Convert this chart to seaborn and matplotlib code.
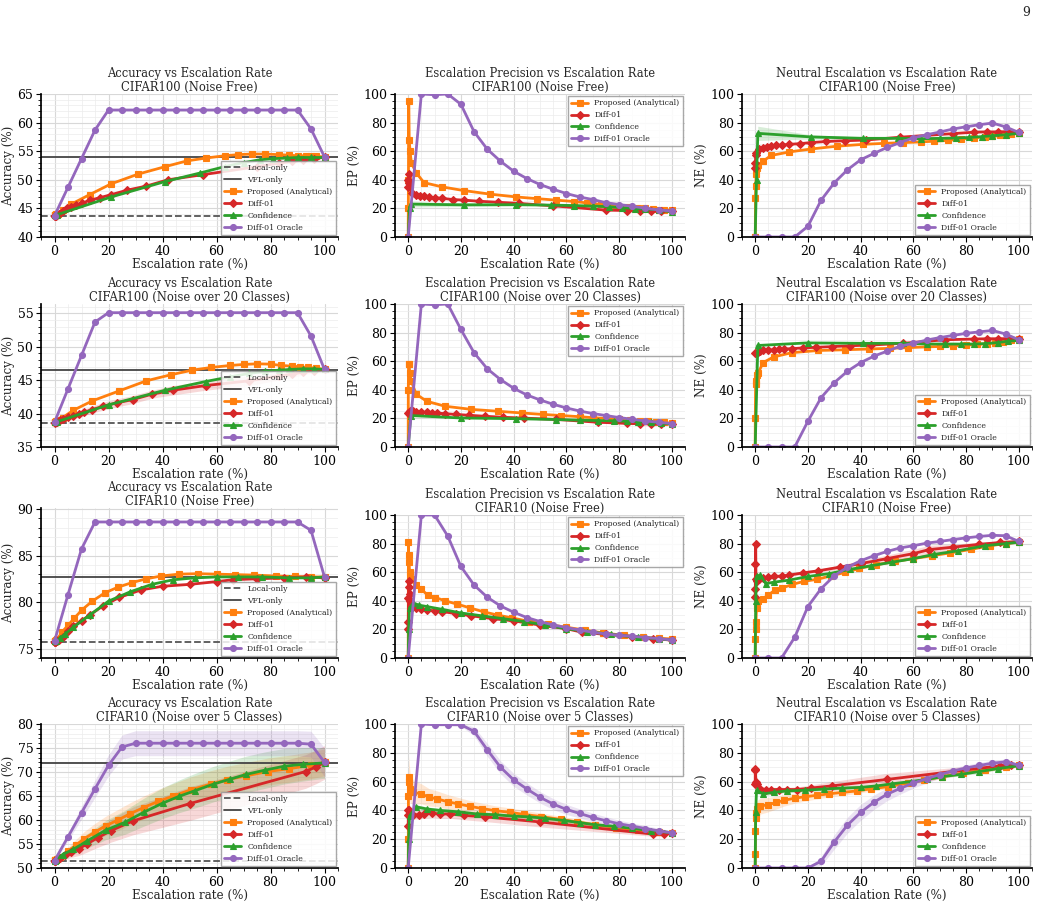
import numpy as np
import matplotlib
matplotlib.use("Agg")
import matplotlib.pyplot as plt
from matplotlib.ticker import MultipleLocator
import seaborn as sns

# ---------------------------------------------------------------- data
# oracle operating points (escalation rate, %)
oracle_x = [0, 5, 10, 15, 20, 25, 30, 35, 40, 45, 50, 55, 60, 65, 70, 75, 80, 85, 90, 95, 100]

# ---- CIFAR100 (Noise Free)
c100nf_local, c100nf_vfl = 43.7, 53.9
c100nf_x_prop = [0, 0.05, 0.1, 0.2, 0.4, 0.7, 1.2, 3, 6, 13, 21, 31, 41, 49, 56, 63, 68, 73, 78, 83, 87, 90, 93, 95, 97, 100]
c100nf_x_diff = [0, 0.1, 0.2, 0.4, 1.5, 3, 4.5, 6, 8, 10, 13, 17, 21, 27, 34, 42, 55, 75, 83, 88, 92, 96, 100]
c100nf_x_conf = [0, 0.5, 1, 21, 41, 54, 63, 70, 76, 81, 86, 90, 95, 100]
c100nf_acc_prop = [43.8, 43.8, 43.8, 43.9, 43.9, 44.0, 44.1, 44.7, 45.7, 47.4, 49.3, 51.0, 52.3, 53.3, 53.8, 54.2, 54.4, 54.5, 54.5, 54.4, 54.3, 54.2, 54.2, 54.1, 54.1, 54.0]
c100nf_acc_diff = [43.6, 43.6, 43.7, 43.7, 44.0, 44.5, 45.0, 45.3, 45.6, 45.9, 46.4, 46.9, 47.4, 48.2, 48.9, 50.0, 50.9, 52.3, 52.9, 53.2, 53.4, 53.6, 54.0]
c100nf_acc_conf = [43.8, 43.8, 43.9, 47.0, 49.7, 51.2, 52.3, 53.0, 53.5, 53.7, 53.8, 53.9, 53.9, 53.9]
c100nf_acc_orac = [43.7, 48.7, 53.7, 58.7, 62.2, 62.2, 62.2, 62.2, 62.2, 62.2, 62.2, 62.2, 62.2, 62.2, 62.2, 62.2, 62.2, 62.2, 62.2, 58.9, 54.0]
c100nf_ep_prop = [0, 20, 40, 95, 68, 60, 52, 45, 38, 35, 32.5, 30, 28, 26.8, 25.8, 24.8, 23.8, 22.8, 22, 21.2, 20.5, 20, 19.5, 19.2, 19, 18.6]
c100nf_ep_diff = [35, 40, 44, 38, 31, 29.5, 29, 28.5, 28, 27.5, 27, 26.2, 25.8, 25, 24.3, 23.5, 21.8, 18.8, 18.5, 18.2, 18.2, 18.2, 18.3]
c100nf_ep_conf = [0, 20, 23, 22.5, 22.6, 22.3, 22, 21.6, 21.2, 20.5, 19.8, 19.5, 19, 17.5]
c100nf_ep_orac = [0, 100, 99.5, 100, 92.8, 73.6, 61.4, 53, 46, 40.9, 36.7, 33.4, 30.4, 28, 26.2, 24, 22.7, 21.5, 20.1, 18.9, 18.2]
c100nf_ne_prop = [0, 0, 27, 36, 44, 48, 50, 53, 57, 59.5, 61.5, 63.5, 64.8, 65.5, 66, 66.5, 67, 67.5, 68.5, 69.3, 70, 70.5, 71, 71.5, 72, 73]
c100nf_ne_diff = [48.5, 52, 57, 59, 61.5, 62.5, 63, 63.5, 64, 64.3, 64.8, 65.3, 66, 66.8, 67.3, 67.8, 69.8, 72.3, 73.3, 73.5, 73.5, 73.7, 73.5]
c100nf_ne_conf = [0, 40, 72.5, 70, 69, 69, 68.7, 69, 69.2, 69.6, 70.2, 70.8, 71.5, 72.5]
c100nf_ne_orac = [0, 0, 0, 0, 7.5, 25.7, 37.9, 47, 54, 58.4, 62.6, 66, 69.4, 71.5, 73.4, 75.5, 77.1, 78.5, 79.7, 77, 73.1]
c100nf_ep_conf_sd = [0, 1, 2, 1.2, 0.8, 0.5, 0.5, 0.5, 0.5, 0.5, 0.5, 0.5, 0.5, 0.5]
c100nf_ne_conf_sd = [0, 3, 5, 1.5, 0.8, 0.5, 0.5, 0.5, 0.5, 0.5, 0.5, 0.5, 0.5, 0.5]

# ---- CIFAR100 (Noise over 20 Classes)
c100n20_local, c100n20_vfl = 38.65, 46.55
c100n20_x_prop = [0, 0.05, 0.15, 0.3, 0.6, 1.2, 3, 7, 14, 24, 34, 43, 51, 58, 65, 70, 75, 80, 84, 88, 91, 94, 97, 100]
c100n20_x_diff = [0, 0.5, 1, 2, 3, 5, 7, 9, 11, 14, 18, 23, 29, 36, 44, 56, 72, 83, 88, 92, 96, 100]
c100n20_x_conf = [0, 1, 20, 41, 56, 65, 72, 78, 83, 87, 92, 96, 100]
c100n20_acc_prop = [38.8, 38.8, 38.8, 38.8, 38.9, 39.0, 39.4, 40.5, 41.9, 43.4, 44.9, 45.8, 46.5, 46.9, 47.2, 47.35, 47.45, 47.4, 47.2, 47.1, 47.0, 46.9, 46.8, 46.6]
c100n20_acc_diff = [38.6, 38.7, 38.8, 39.0, 39.2, 39.5, 39.7, 39.9, 40.2, 40.6, 41.1, 41.6, 42.1, 42.9, 43.5, 44.2, 44.9, 45.6, 45.9, 46.2, 46.4, 46.6]
c100n20_acc_conf = [38.7, 38.8, 41.3, 43.5, 44.8, 45.5, 46.0, 46.3, 46.5, 46.6, 46.7, 46.7, 46.6]
c100n20_acc_orac = [38.7, 43.7, 48.7, 53.7, 55.1, 55.1, 55.1, 55.1, 55.1, 55.1, 55.1, 55.1, 55.1, 55.1, 55.1, 55.1, 55.1, 55.1, 55.1, 51.6, 46.6]
c100n20_ep_prop = [0, 40, 58, 58, 52, 46, 37, 32, 28.5, 26.3, 25, 23.8, 22.8, 22, 21.2, 20.5, 20, 19.5, 19, 18.5, 18, 17.7, 17.2, 16.5]
c100n20_ep_diff = [24, 25, 25.5, 25, 24.7, 24.5, 24.2, 24, 23.7, 23.3, 22.8, 22.2, 21.5, 20.8, 20.2, 19.3, 17.3, 16.5, 16.2, 16.2, 16.2, 16.3]
c100n20_ep_conf = [0, 22, 20.3, 19.8, 19.2, 18.8, 18.5, 18.3, 18, 17.7, 17.3, 16.8, 16]
c100n20_ep_orac = [0, 100, 99.5, 100, 82.2, 65.9, 54.7, 47.2, 41.1, 36.4, 32.9, 29.9, 27.3, 25.2, 23.4, 22, 20.6, 19.4, 18.2, 17.3, 16.4]
c100n20_ne_prop = [0, 20, 44, 46, 50, 52, 59, 63, 66, 67.5, 68, 68.5, 69, 69.5, 70, 70.3, 70.8, 71.2, 71.7, 72.2, 72.8, 73.5, 74.5, 75.5]
c100n20_ne_diff = [65.5, 66, 66.5, 67, 67.5, 67.8, 68, 68.3, 68.5, 68.8, 69.3, 69.7, 70.2, 70.8, 71.3, 72.5, 75, 75.5, 75.7, 75.7, 75.8, 75.5]
c100n20_ne_conf = [0, 71, 72.8, 72.5, 72.5, 72, 72, 72, 72, 72.3, 73, 74, 74.5]
c100n20_ne_orac = [0, 0, 0, 0, 18, 34.5, 45, 53, 59, 63.5, 67, 70.5, 72.5, 74.8, 76.5, 78, 79.5, 80.5, 81.5, 79, 75]
c100n20_acc_diff_sd = [0.1, 0.2, 0.2, 0.3, 0.3, 0.4, 0.4, 0.5, 0.5, 0.5, 0.6, 0.6, 0.6, 0.6, 0.7, 0.7, 0.7, 0.6, 0.5, 0.4, 0.3, 0.2]

# ---- CIFAR10 (Noise Free)
c10nf_local, c10nf_vfl = 75.7, 82.7
c10nf_x_prop = [0, 0.1, 0.2, 0.3, 0.5, 1, 2.8, 5, 7.4, 10.3, 14, 18.7, 23.5, 28.8, 34, 39.5, 46, 53, 60, 67, 74, 82, 89, 95, 100]
c10nf_x_diff = [0, 0.05, 0.1, 0.2, 0.3, 0.5, 0.8, 1.5, 3, 5, 7, 10, 13, 18, 24, 32, 40, 50, 60, 66, 75, 85, 93, 100]
c10nf_x_conf = [0, 0.2, 0.5, 2, 4, 7, 13, 20, 28, 36, 44, 52, 60, 68, 77, 87, 95, 100]
c10nf_acc_prop = [75.8, 75.8, 75.8, 75.8, 75.9, 76.0, 76.8, 77.5, 78.3, 79.2, 80.1, 81.0, 81.6, 82.1, 82.5, 82.8, 83.0, 83.05, 83.0, 82.95, 82.9, 82.8, 82.75, 82.7, 82.7]
c10nf_acc_diff = [75.7, 75.7, 75.7, 75.7, 75.7, 75.8, 75.8, 75.9, 76.3, 76.9, 77.4, 78.0, 78.6, 79.6, 80.5, 81.3, 81.7, 81.9, 82.2, 82.4, 82.5, 82.6, 82.7, 82.6]
c10nf_acc_conf = [75.8, 75.8, 75.8, 76.1, 76.6, 77.3, 78.6, 80.1, 81.1, 81.9, 82.4, 82.6, 82.7, 82.7, 82.7, 82.6, 82.6, 82.7]
c10nf_acc_orac = [75.8, 80.8, 85.7, 88.6, 88.6, 88.6, 88.6, 88.6, 88.6, 88.6, 88.6, 88.6, 88.6, 88.6, 88.6, 88.6, 88.6, 88.6, 88.6, 87.7, 82.7]
c10nf_ep_prop = [0, 81, 67, 72, 60, 55, 51, 48, 44, 42.3, 40, 37.6, 35, 32.2, 30, 28, 25.5, 23.5, 21.5, 19.5, 17.5, 15.8, 14.5, 13.8, 13.3]
c10nf_ep_diff = [20, 25, 42, 50, 54, 45, 40, 36, 35, 34, 33.5, 33, 32.5, 31, 29.5, 27.5, 26, 23, 20.5, 18, 16.5, 15, 13.5, 12.5]
c10nf_ep_conf = [0, 20, 35, 38.5, 37, 36, 34, 31.5, 29.5, 27.5, 25.5, 23, 20.5, 18.5, 16.5, 14.5, 13.5, 12.5]
c10nf_ep_orac = [0, 100, 100, 85.3, 64, 51, 42.5, 36.4, 32, 28.3, 25.5, 23.1, 21.3, 19.6, 18, 16.8, 15.9, 15.2, 14.3, 13.6, 12.6]
c10nf_ne_prop = [0, 13, 20, 25, 35, 40, 41.5, 44, 47.4, 49, 51.4, 53.7, 55, 57.5, 59.8, 62.6, 65.2, 67.5, 69.5, 71.5, 73.5, 76, 78.5, 80, 81]
c10nf_ne_diff = [42.5, 48, 66, 80, 55, 54, 55, 55.5, 56, 56.5, 57, 57.3, 58, 59.5, 61, 63.5, 66, 69.5, 73, 75.8, 77.5, 79.5, 80.8, 81.5]
c10nf_ne_conf = [0, 40, 57, 58, 52, 53, 54.5, 57, 59, 62, 64.5, 67, 69.5, 72.5, 75, 78.5, 80, 81]
c10nf_ne_orac = [0, 0, 0, 14.5, 36, 48.5, 57.5, 63.5, 68, 71.5, 74.5, 77, 78.5, 80.3, 81.5, 82.8, 84, 85, 85.8, 85.5, 81.5]
c10nf_ne_diff_sd = [2, 3, 5, 5, 2, 1, 1, 1, 1, 1, 1, 1, 1, 1, 1, 1.5, 2, 2.5, 3, 3, 2, 1.5, 1, 1]

# ---- CIFAR10 (Noise over 5 Classes), with std bands
c10n5_local, c10n5_vfl = 51.4, 71.9
c10n5_x_prop = [0, 0.05, 0.1, 0.2, 0.4, 0.8, 2, 5, 8, 11, 15, 19, 23.5, 28, 33, 38.5, 44, 50.5, 58, 64, 71, 79, 87, 95, 100]
c10n5_x_diff = [0, 0.05, 0.1, 0.3, 0.6, 2, 4, 6, 9, 12, 16, 21, 29, 50, 93, 97, 100]
c10n5_x_conf = [0, 0.2, 0.5, 3, 7, 12, 19, 26, 33, 40, 46, 52, 59, 65, 71, 78, 85, 92, 100]
c10n5_acc_prop = [51.6, 51.6, 51.6, 51.6, 51.7, 51.8, 52.3, 53.5, 54.8, 56.1, 57.5, 58.8, 60.0, 61.3, 62.6, 63.9, 65.0, 66.3, 67.5, 68.4, 69.2, 70.1, 70.7, 71.4, 72.0]
c10n5_acc_diff = [51.4, 51.4, 51.5, 51.5, 51.6, 52.1, 52.8, 53.3, 54.0, 55.0, 56.3, 57.8, 59.8, 63.4, 70.1, 71.1, 72.0]
c10n5_acc_conf = [51.5, 51.6, 51.7, 52.8, 53.9, 55.6, 57.9, 59.5, 61.6, 63.5, 64.9, 66.1, 67.5, 68.5, 69.5, 70.4, 71.2, 71.6, 71.9]
c10n5_acc_orac = [51.5, 56.5, 61.5, 66.5, 71.4, 75.2, 76.0, 76.0, 76.0, 76.0, 76.0, 76.0, 76.0, 76.0, 76.0, 76.0, 76.0, 76.0, 76.0, 75.8, 72.0]
c10n5_ep_prop = [0, 20, 50, 63, 60, 55, 52.5, 51.5, 49, 48, 46, 44.5, 42.8, 41.3, 39.8, 38.7, 37.2, 35.7, 33.7, 32, 30, 28, 26.5, 25, 24.5]
c10n5_ep_diff = [29, 37, 40, 40, 38, 37, 37, 37.5, 38, 37.5, 37.5, 36.5, 35.5, 32, 23.5, 23.5, 24.5]
c10n5_ep_conf = [0, 20, 36, 42.5, 41, 40, 39, 37.5, 37, 36, 35.5, 34.5, 33, 31.5, 30, 29, 27.5, 26, 24.5]
c10n5_ep_orac = [0, 100, 99.5, 99.5, 99.5, 94.9, 82.1, 70, 61.2, 54.9, 49.1, 44.4, 40.7, 37.9, 35.1, 32.8, 30.7, 29.1, 27.4, 25.8, 24.4]
c10n5_ne_prop = [0, 10, 26, 35, 38, 41, 43, 44, 45.5, 47, 48.5, 49.5, 50.5, 51.5, 52.5, 53.5, 55, 56.5, 59, 61, 63.5, 66, 68, 70, 71.5]
c10n5_ne_diff = [58, 68.5, 68, 60, 58, 55, 54.5, 54.5, 54.5, 54.5, 54.5, 55.5, 57, 61.5, 71, 71.5, 71.5]
c10n5_ne_conf = [0, 39, 54, 51.5, 52.5, 53.5, 54, 54.8, 55.5, 56, 57, 58.5, 60, 61.5, 63.5, 65, 67, 69, 71]
c10n5_ne_orac = [0, 0, 0, 0, 0, 4.7, 18.1, 29.8, 38.6, 45.6, 51.2, 55.3, 59, 62, 64.9, 67.4, 69.5, 71.2, 72.8, 73.7, 71.4]
# std (half band width)
c10n5_acc_prop_sd = [0.1, 0.1, 0.1, 0.1, 0.2, 0.3, 0.5, 0.9, 1.2, 1.5, 1.8, 2.0, 2.2, 2.3, 2.4, 2.5, 2.6, 2.7, 2.8, 2.8, 2.8, 2.8, 2.8, 2.8, 2.8]
c10n5_acc_diff_sd = [0.1, 0.1, 0.1, 0.2, 0.3, 0.6, 0.9, 1.1, 1.4, 1.7, 2.0, 2.4, 2.9, 3.5, 3.5, 3.5, 3.5]
c10n5_acc_conf_sd = [0.1, 0.1, 0.2, 0.6, 1.0, 1.5, 2.0, 2.5, 2.9, 3.2, 3.4, 3.6, 3.7, 3.8, 3.8, 3.8, 3.7, 3.5, 3.2]
c10n5_acc_orac_sd = [0.3, 0.8, 1.3, 1.8, 2.2, 2.5, 2.6, 2.6, 2.6, 2.6, 2.6, 2.6, 2.6, 2.6, 2.6, 2.6, 2.6, 2.6, 2.6, 2.7, 3.0]
c10n5_ep_prop_sd = [0, 5, 10, 15, 12, 10, 8, 7, 6, 5.5, 5, 4.5, 4, 3.7, 3.4, 3.1, 2.8, 2.5, 2.2, 2, 1.8, 1.5, 1.3, 1.2, 1.0]
c10n5_ep_diff_sd = [2, 3, 3, 3, 3, 3, 3, 3, 3, 3, 3, 3, 3.2, 3.5, 1.5, 1.5, 1.0]
c10n5_ep_conf_sd = [0, 1, 1.5, 1.5, 1.5, 1.5, 1.5, 1.5, 1.5, 1.5, 1.5, 1.5, 1.5, 1.5, 1.5, 1.2, 1.2, 1.0, 1.0]
c10n5_ep_orac_sd = [0, 0, 0.5, 0.5, 1, 3, 4.5, 4.5, 4.5, 4.2, 4, 3.8, 3.5, 3.2, 3, 2.8, 2.5, 2.2, 2, 1.8, 1.5]
c10n5_ne_prop_sd = [0, 5, 8, 8, 7, 6, 5.5, 5, 4.5, 4, 3.5, 3, 2.5, 2.2, 2, 1.8, 1.6, 1.5, 1.4, 1.3, 1.2, 1.2, 1.2, 1.2, 1.2]
c10n5_ne_diff_sd = [8, 10, 8, 5, 3, 2, 1.5, 1.5, 1.5, 1.5, 1.8, 2.2, 3, 4.2, 1.5, 1.2, 1.0]
c10n5_ne_conf_sd = [0, 2, 2, 1.5, 1.2, 1, 1, 1, 1, 1, 1, 1, 1, 1, 1, 1, 1, 1, 1]
c10n5_ne_orac_sd = [0, 0, 0, 0, 0.5, 3, 5, 5.5, 5.5, 5, 4.5, 4, 3.5, 3, 2.5, 2.2, 2, 2, 2, 2, 1.5]

methods = [
    ("prop", "Proposed (Analytical)", "#ff7f0e", "s", 4.3),
    ("diff", "Diff-01", "#d62728", "D", 3.8),
    ("conf", "Confidence", "#2ca02c", "^", 4.8),
    ("orac", "Diff-01 Oracle", "#9467bd", "o", 4.3),
]

rows = [
    dict(title="CIFAR100 (Noise Free)", local=c100nf_local, vfl=c100nf_vfl, acc_ylim=(40, 65),
         x=dict(prop=c100nf_x_prop, diff=c100nf_x_diff, conf=c100nf_x_conf, orac=oracle_x),
         acc=dict(prop=c100nf_acc_prop, diff=c100nf_acc_diff, conf=c100nf_acc_conf, orac=c100nf_acc_orac),
         ep=dict(prop=c100nf_ep_prop, diff=c100nf_ep_diff, conf=c100nf_ep_conf, orac=c100nf_ep_orac),
         ne=dict(prop=c100nf_ne_prop, diff=c100nf_ne_diff, conf=c100nf_ne_conf, orac=c100nf_ne_orac),
         sd={("ep", "conf"): c100nf_ep_conf_sd, ("ne", "conf"): c100nf_ne_conf_sd}),
    dict(title="CIFAR100 (Noise over 20 Classes)", local=c100n20_local, vfl=c100n20_vfl, acc_ylim=(35, 56.4),
         x=dict(prop=c100n20_x_prop, diff=c100n20_x_diff, conf=c100n20_x_conf, orac=oracle_x),
         acc=dict(prop=c100n20_acc_prop, diff=c100n20_acc_diff, conf=c100n20_acc_conf, orac=c100n20_acc_orac),
         ep=dict(prop=c100n20_ep_prop, diff=c100n20_ep_diff, conf=c100n20_ep_conf, orac=c100n20_ep_orac),
         ne=dict(prop=c100n20_ne_prop, diff=c100n20_ne_diff, conf=c100n20_ne_conf, orac=c100n20_ne_orac),
         sd={("acc", "diff"): c100n20_acc_diff_sd}),
    dict(title="CIFAR10 (Noise Free)", local=c10nf_local, vfl=c10nf_vfl, acc_ylim=(74.0, 90.1),
         x=dict(prop=c10nf_x_prop, diff=c10nf_x_diff, conf=c10nf_x_conf, orac=oracle_x),
         acc=dict(prop=c10nf_acc_prop, diff=c10nf_acc_diff, conf=c10nf_acc_conf, orac=c10nf_acc_orac),
         ep=dict(prop=c10nf_ep_prop, diff=c10nf_ep_diff, conf=c10nf_ep_conf, orac=c10nf_ep_orac),
         ne=dict(prop=c10nf_ne_prop, diff=c10nf_ne_diff, conf=c10nf_ne_conf, orac=c10nf_ne_orac),
         sd={("ne", "diff"): c10nf_ne_diff_sd}),
    dict(title="CIFAR10 (Noise over 5 Classes)", local=c10n5_local, vfl=c10n5_vfl, acc_ylim=(50, 80),
         x=dict(prop=c10n5_x_prop, diff=c10n5_x_diff, conf=c10n5_x_conf, orac=oracle_x),
         acc=dict(prop=c10n5_acc_prop, diff=c10n5_acc_diff, conf=c10n5_acc_conf, orac=c10n5_acc_orac),
         ep=dict(prop=c10n5_ep_prop, diff=c10n5_ep_diff, conf=c10n5_ep_conf, orac=c10n5_ep_orac),
         ne=dict(prop=c10n5_ne_prop, diff=c10n5_ne_diff, conf=c10n5_ne_conf, orac=c10n5_ne_orac),
         sd={("acc", "prop"): c10n5_acc_prop_sd, ("acc", "diff"): c10n5_acc_diff_sd,
             ("acc", "conf"): c10n5_acc_conf_sd, ("acc", "orac"): c10n5_acc_orac_sd,
             ("ep", "prop"): c10n5_ep_prop_sd, ("ep", "diff"): c10n5_ep_diff_sd,
             ("ep", "conf"): c10n5_ep_conf_sd, ("ep", "orac"): c10n5_ep_orac_sd,
             ("ne", "prop"): c10n5_ne_prop_sd, ("ne", "diff"): c10n5_ne_diff_sd,
             ("ne", "conf"): c10n5_ne_conf_sd, ("ne", "orac"): c10n5_ne_orac_sd}),
]

metrics = [
    ("acc", "Accuracy vs Escalation Rate", "Accuracy (%)", "Escalation rate (%)"),
    ("ep", "Escalation Precision vs Escalation Rate", "EP (%)", "Escalation Rate (%)"),
    ("ne", "Neutral Escalation vs Escalation Rate", "NE (%)", "Escalation Rate (%)"),
]

# ---------------------------------------------------------------- style
sns.set_theme(style="ticks")
plt.rcParams["font.family"] = ["DejaVu Serif"]
plt.rcParams["axes.edgecolor"] = "black"
plt.rcParams["xtick.color"] = "black"
plt.rcParams["ytick.color"] = "black"

W, H = 1039, 905
fig = plt.figure(figsize=(W / 100, H / 100), dpi=100)

col_px = [(41, 297), (395, 290), (742, 290)]
row_px = [[(94, 237)] * 3, [(304, 447)] * 3, [(508, 658), (515, 658), (515, 658)], [(724, 868)] * 3]

for r, row in enumerate(rows):
    for c, (metric, mtitle, ylab, xlab) in enumerate(metrics):
        left, width = col_px[c]
        top, bot = row_px[r][c]
        ax = fig.add_axes([left / W, 1 - bot / H, width / W, (bot - top) / H])

        if metric == "acc":
            ax.axhline(row["local"], color="#555555", ls="--", lw=1.3, label="Local-only")
            ax.axhline(row["vfl"], color="#444444", ls="-", lw=1.3, label="VFL-only")

        for key, label, color, marker, ms in methods:
            xs = row["x"][key]
            ys = row[metric][key]
            sd = row["sd"].get((metric, key))
            if sd is not None:
                ax.fill_between(xs, np.array(ys) - np.array(sd), np.array(ys) + np.array(sd),
                                color=color, alpha=0.18, lw=0)
            sns.lineplot(x=xs, y=ys, ax=ax, color=color, marker=marker, markersize=ms,
                         markeredgecolor=color, markeredgewidth=0.8, lw=2.0, label=label,
                         estimator=None, sort=False)

        ax.set_xlim(-5, 105)
        if metric == "acc":
            ax.set_ylim(*row["acc_ylim"])
            ax.yaxis.set_major_locator(MultipleLocator(5))
            ax.yaxis.set_minor_locator(MultipleLocator(1))
            loc = "lower right"
        else:
            ax.set_ylim(0, 100)
            ax.yaxis.set_major_locator(MultipleLocator(20))
            ax.yaxis.set_minor_locator(MultipleLocator(5))
            loc = "upper right" if metric == "ep" else "lower right"
        ax.xaxis.set_major_locator(MultipleLocator(20))
        ax.xaxis.set_minor_locator(MultipleLocator(5))
        ax.grid(True, which="major", color="#d8d8d8", lw=0.8)
        ax.grid(True, which="minor", color="#ececec", lw=0.5)
        ax.set_axisbelow(True)
        ax.tick_params(which="major", labelsize=9, length=3.5, width=0.8, pad=2)
        ax.tick_params(which="minor", length=2, width=0.6)
        sns.despine(ax=ax)

        ax.set_title(f"{mtitle}\n{row['title']}", fontsize=8.3, pad=2.5, linespacing=1.1)
        ax.set_xlabel(xlab, fontsize=8.6, labelpad=0)
        ax.set_ylabel(ylab, fontsize=8.6, labelpad=2)
        ax.legend(loc=loc, fontsize=5.6, frameon=True, fancybox=False, framealpha=0.85,
                  edgecolor="#999999", handlelength=2.2, borderaxespad=0.3)

fig.text(1030 / W, 1 - 12 / H, "9", ha="right", va="center", fontsize=9)
fig.savefig("out.png", dpi=100)
